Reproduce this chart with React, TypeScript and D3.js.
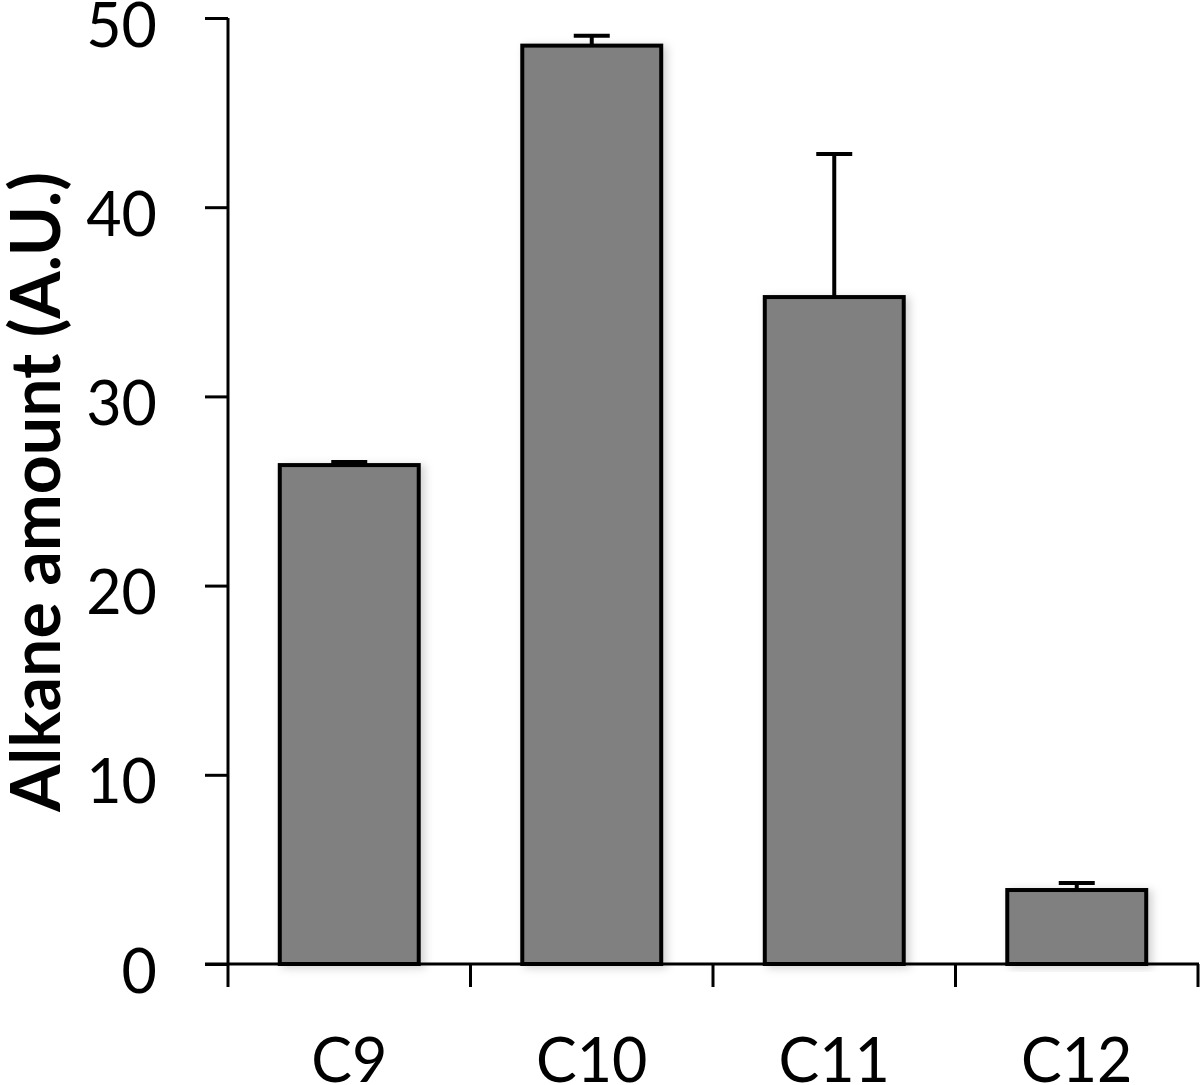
import * as d3 from 'd3';
import React, { useEffect, useRef } from 'react';

const categories = ['C9', 'C10', 'C11', 'C12'];
const amounts = [26.37, 48.54, 35.25, 3.91];
const errors = [0.16, 0.52, 7.56, 0.37];
const yTicks = [0, 10, 20, 30, 40, 50];

const W = 1200;
const H = 1085;
const margin = { left: 228, right: 2, top: 18, bottom: 121 };

const App: React.FC = () => {
    const svgRef = useRef<SVGSVGElement | null>(null);

    useEffect(() => {
        if (!svgRef.current) return;
        const svg = d3.select(svgRef.current);
        svg.selectAll('*').remove();

        const x = d3
            .scaleBand<string>()
            .domain(categories)
            .range([margin.left, W - margin.right])
            .paddingInner(0.427)
            .paddingOuter(0.2135);
        const y = d3
            .scaleLinear()
            .domain([0, 50])
            .range([H - margin.bottom, margin.top]);

        const font = 'Lato, "Open Sans", sans-serif';

        const defs = svg.append('defs');
        const shadow = defs.append('filter').attr('id', 'shadow')
            .attr('x', '-10%').attr('y', '-10%').attr('width', '130%').attr('height', '120%');
        shadow.append('feDropShadow')
            .attr('dx', 4).attr('dy', 2).attr('stdDeviation', 4)
            .attr('flood-color', '#000').attr('flood-opacity', 0.18);

        // bars
        svg.append('g')
            .selectAll('rect')
            .data(categories)
            .join('rect')
            .attr('x', (d) => x(d)!)
            .attr('y', (_, i) => y(amounts[i]))
            .attr('width', x.bandwidth())
            .attr('height', (_, i) => y(0) - y(amounts[i]))
            .attr('fill', '#808080')
            .attr('stroke', '#000')
            .attr('stroke-width', 4)
            .attr('filter', 'url(#shadow)');

        // error bars (upper only)
        const eb = svg.append('g').attr('stroke', '#000').attr('stroke-width', 4);
        categories.forEach((c, i) => {
            const cx = x(c)! + x.bandwidth() / 2;
            const top = y(amounts[i] + errors[i]);
            eb.append('line')
                .attr('x1', cx).attr('x2', cx)
                .attr('y1', y(amounts[i])).attr('y2', top);
            eb.append('line')
                .attr('x1', cx - 18).attr('x2', cx + 18)
                .attr('y1', top).attr('y2', top);
        });

        // y axis
        const yAxis = svg.append('g').attr('transform', `translate(${margin.left},0)`);
        yAxis.call(
            d3.axisLeft(y).tickValues(yTicks).tickSize(23).tickPadding(0).tickSizeOuter(0),
        );
        yAxis.select('.domain').attr('stroke', '#000').attr('stroke-width', 3)
            .attr('d', `M0,${y(0)}V${y(50)}`);
        yAxis.selectAll('.tick line').attr('stroke', '#000').attr('stroke-width', 3);
        yAxis.selectAll('.tick text')
            .attr('x', -71)
            .attr('dy', '0.46em')
            .attr('fill', '#000')
            .style('font-family', font)
            .style('font-size', '61px');

        // x axis
        const boundaries = categories.map((c) => x(c)! - (x.step() * x.paddingInner()) / 2);
        boundaries.push(W - margin.right);
        const xAxis = svg.append('g').attr('stroke', '#000').attr('stroke-width', 3);
        xAxis.append('line')
            .attr('x1', 205).attr('x2', W - margin.right + 1)
            .attr('y1', y(0)).attr('y2', y(0));
        boundaries.forEach((b) => {
            xAxis.append('line')
                .attr('x1', b).attr('x2', b)
                .attr('y1', y(0)).attr('y2', y(0) + 23);
        });

        svg.append('g')
            .selectAll('text')
            .data(categories)
            .join('text')
            .attr('x', (d) => x(d)! + x.bandwidth() / 2)
            .attr('y', 1082)
            .attr('text-anchor', 'middle')
            .attr('fill', '#000')
            .style('font-family', font)
            .style('font-size', '61px')
            .text((d) => d);

        // y label
        svg.append('text')
            .attr('transform', `translate(60, 492) rotate(-90)`)
            .attr('text-anchor', 'middle')
            .attr('fill', '#000')
            .style('font-family', font)
            .style('font-weight', 'bold')
            .style('font-size', '68px')
            .text('Alkane amount (A.U.)');
    }, []);

    return (
        <svg
            ref={svgRef}
            width={W}
            height={H}
            style={{ position: 'absolute', left: 0, top: 0, background: '#fff' }}
        />
    );
};

export default App;
